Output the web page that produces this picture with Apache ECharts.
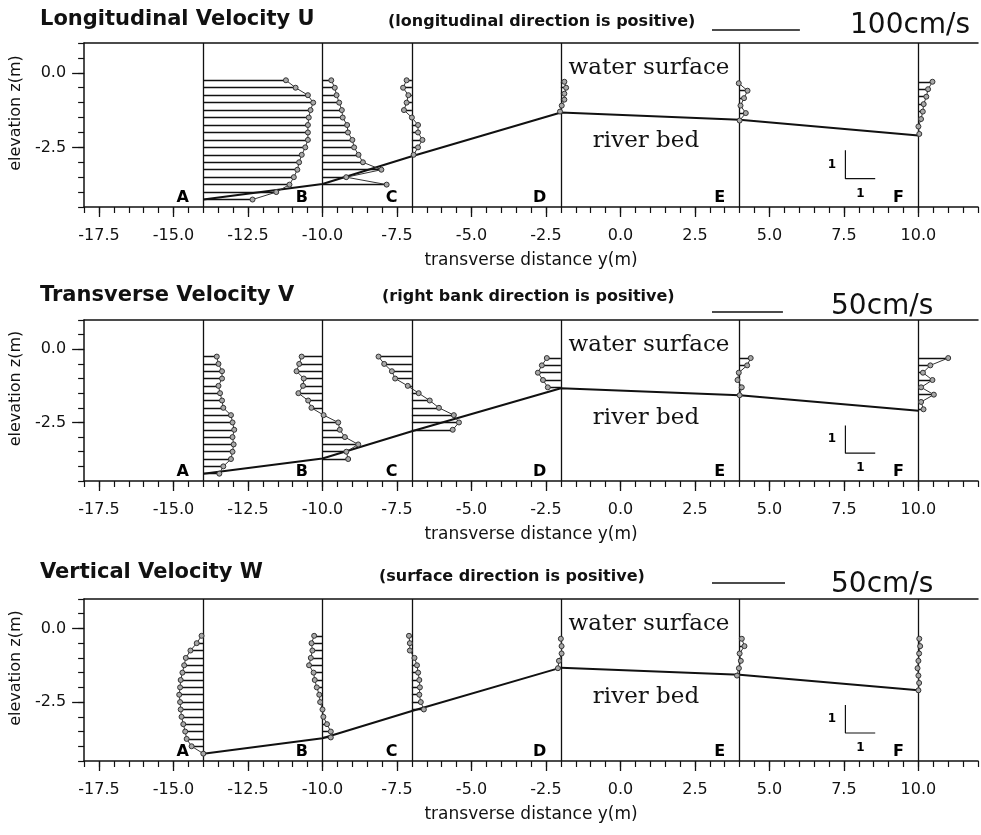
<!DOCTYPE html>
<html><head><meta charset="utf-8">
<script src="https://cdn.jsdelivr.net/npm/echarts@6/dist/echarts.min.js"></script>
<style>html,body{margin:0;padding:0;background:#fff}#c{width:981px;height:835px}</style>
</head><body><div id="c"></div>
<script>
// ---------- data ----------
const stations = [-14, -10, -7, -2, 4, 10];
const stationNames = ['A', 'B', 'C', 'D', 'E', 'F'];
const bedZ = [-4.25, -3.73, -2.8, -1.33, -1.57, -2.1];
const xTickLabels = [-17.5, -15, -12.5, -10, -7.5, -5, -2.5, 0, 2.5, 5, 7.5, 10];
const yTickLabels = [0, -2.5];

// measurement elevations (m)
const zA = [-0.25, -0.5, -0.75, -1.0, -1.25, -1.5, -1.75, -2.0, -2.25, -2.5, -2.75, -3.0, -3.25, -3.5, -3.75, -4.0, -4.25];
const zB = [-0.25, -0.5, -0.75, -1.0, -1.25, -1.5, -1.75, -2.0, -2.25, -2.5, -2.75, -3.0, -3.25, -3.5, -3.75];
const zB3 = [-0.25, -0.5, -0.75, -1.0, -1.25, -1.5, -1.75, -2.0, -2.25, -2.5, -2.75, -3.0, -3.25, -3.5, -3.7];
const zC = [-0.25, -0.5, -0.75, -1.0, -1.25, -1.5, -1.75, -2.0, -2.25, -2.5, -2.75];
const zD1 = [-0.3, -0.5, -0.7, -0.9, -1.1, -1.3];
const zE1 = [-0.35, -0.6, -0.85, -1.1, -1.35, -1.6];
const zF1 = [-0.3, -0.55, -0.8, -1.05, -1.3, -1.55, -1.8, -2.05];
const zD2 = [-0.3, -0.55, -0.8, -1.05, -1.3];
const zE2 = [-0.3, -0.55, -0.8, -1.05, -1.3, -1.57];
const zF2 = [-0.3, -0.55, -0.8, -1.05, -1.3, -1.55, -1.8, -2.05];
const zD3 = [-0.35, -0.6, -0.85, -1.1, -1.35];
const zE3 = [-0.35, -0.6, -0.85, -1.1, -1.35, -1.6];
const zF3 = [-0.35, -0.6, -0.85, -1.1, -1.35, -1.6, -1.85, -2.1];

// longitudinal velocity U (cm/s)
const uA = [94, 105, 119, 125, 122, 120, 119, 119, 119, 116, 112, 109, 107, 103, 98, 83, 56];
const uB = [10, 14, 16, 19, 22, 23, 28, 29, 34, 36, 41, 46, 67, 27, 73];
const uC = [-6, -10, -4, -6, -9, 0, 7, 7, 12, 7, 2];
const uD = [4, 6, 4, 4, 1, -1];
const uE = [-1, 9, 5, 1, 7, 0];
const uF = [16, 11, 9, 6, 5, 3, 0, 1];

// transverse velocity V (cm/s)
const vA = [9.5, 10.7, 13.2, 13.2, 10.7, 11.8, 13.2, 14.1, 19.5, 20.6, 21.8, 20.6, 21.4, 20.6, 19.5, 14.1, 11.3];
const vB = [-14.7, -16.4, -18.3, -13.2, -13.7, -17.0, -10.1, -7.8, 0.8, 11.1, 12.2, 15.8, 25.2, 16.8, 18.1];
const vC = [-23.5, -19.5, -14.1, -11.8, -2.9, 4.8, 12.6, 19.1, 29.6, 33.2, 28.8];
const vD = [-9.9, -13.4, -16.2, -12.6, -9.2];
const vE = [7.8, 5.3, -0.6, -1.5, 1.5, 0];
const vF = [21, 8.4, 3.2, 9.9, 1.9, 10.9, 1.9, 3.6];

// vertical velocity W (cm/s)
const wA = [-1.2, -4.5, -8.8, -12.0, -13.1, -14.3, -15.5, -15.9, -16.5, -15.9, -15.5, -14.9, -13.7, -12.4, -11.4, -8.0, 0];
const wB = [-5.7, -7.5, -6.9, -8.0, -9.2, -6.1, -5.3, -3.9, -2.2, -1.6, 0, 0.6, 3.1, 5.7, 5.7];
const wC = [-2.0, -1.4, -1.4, 1.8, 3.5, 4.3, 5.1, 5.5, 5.1, 6.1, 8.2];
const wD = [0, 0.5, 0.5, -1.3, -2.0];
const wE = [1.5, 3.3, 0, 0.8, -0.5, -1.8];
const wF = [0.6, 1.2, 0.5, 0, -0.6, 0, 0.5, 0];

const panels = [
  { title: 'Longitudinal Velocity U', sub: '(longitudinal direction is positive)', ref: 100, refText: '100cm/s',
    scale: 2.95 / 100, z: [zA, zB, zC, zD1, zE1, zF1], v: [uA, uB, uC, uD, uE, uF] },
  { title: 'Transverse Velocity V', sub: '(right bank direction is positive)', ref: 50, refText: '50cm/s',
    scale: 2.38 / 50, z: [zA, zB, zC, zD2, zE2, zF2], v: [vA, vB, vC, vD, vE, vF] },
  { title: 'Vertical Velocity W', sub: '(surface direction is positive)', ref: 50, refText: '50cm/s',
    scale: 2.45 / 50, z: [zA, zB3, zC, zD3, zE3, zF3], v: [wA, wB, wC, wD, wE, wF] }
];

// ---------- layout / style ----------
const X_MIN = -18, X_MAX = 12, Y_MIN = -4.5, Y_MAX = 1.0;
const gridLeft = 84, gridRight = 3;
const gridTops = [43, 320, 599];
const gridH = [164, 161, 162];
const titleY = [20, 296, 573];
const subY = [22, 297, 577];
const barY = [30, 312, 583];
const refY = [26, 307, 585];
const subX = [388, 382, 379];
const SANS = '"DejaVu Sans", sans-serif';
const SERIF = '"DejaVu Serif", serif';
const INK = '#111';
const scaleGlyph = { x: 7.55, zTop: -2.6, zBot: -3.55, len: 1 };

const isMajor = v => Math.abs(v / 2.5 - Math.round(v / 2.5)) < 1e-6;

const grid = [], xAxis = [], yAxis = [], series = [];
panels.forEach((p, i) => {
  grid.push({ left: gridLeft, right: gridRight, top: gridTops[i], height: gridH[i] });
  xAxis.push({
    gridIndex: i, type: 'value', min: X_MIN, max: X_MAX, interval: 0.5, position: 'bottom',
    axisLine: { show: true, onZero: false, lineStyle: { color: INK, width: 1.5 } },
    axisTick: { show: true, length: 6, lineStyle: { color: INK, width: 1.2 } },
    axisLabel: { show: true, interval: 0, margin: 21, fontFamily: SANS, fontSize: 16, color: INK,
      formatter: v => (isMajor(v) ? v.toFixed(1) : '') },
    splitLine: { show: false },
    name: 'transverse distance y(m)', nameLocation: 'middle', nameGap: 45,
    nameTextStyle: { fontFamily: SANS, fontSize: 17, color: INK }
  });
  xAxis.push({
    gridIndex: i, type: 'value', min: X_MIN, max: X_MAX, position: 'bottom',
    axisLine: { show: false, onZero: false },
    axisTick: { show: true, length: 10, customValues: xTickLabels, lineStyle: { color: INK, width: 1.3 } },
    axisLabel: { show: false }, splitLine: { show: false }
  });
  xAxis.push({
    gridIndex: i, type: 'value', min: X_MIN, max: X_MAX, position: 'top',
    axisLine: { show: true, onZero: false, lineStyle: { color: INK, width: 1.5 } },
    axisTick: { show: false }, axisLabel: { show: false }, splitLine: { show: false }
  });
  yAxis.push({
    gridIndex: i, type: 'value', min: Y_MIN, max: Y_MAX, interval: 0.5, position: 'left',
    axisLine: { show: true, onZero: false, lineStyle: { color: INK, width: 1.5 } },
    axisTick: { show: true, length: 6, lineStyle: { color: INK, width: 1.2 } },
    axisLabel: { show: true, margin: 18, fontFamily: SANS, fontSize: 16, color: INK,
      formatter: v => (yTickLabels.some(t => Math.abs(t - v) < 1e-6) ? v.toFixed(1) : '') },
    splitLine: { show: false },
    name: 'elevation z(m)', nameLocation: 'middle', nameGap: 56, nameRotate: 90,
    nameTextStyle: { fontFamily: SANS, fontSize: 16, color: INK, padding: [0, 0, 0, 24] }
  });
  yAxis.push({
    gridIndex: i, type: 'value', min: Y_MIN, max: Y_MAX, position: 'left',
    axisLine: { show: false, onZero: false },
    axisTick: { show: true, length: 12, customValues: yTickLabels, lineStyle: { color: INK, width: 1.3 } },
    axisLabel: { show: false }, splitLine: { show: false }
  });
  const xi = i * 3, yi = i * 2;

  // station verticals
  series.push({
    type: 'lines', coordinateSystem: 'cartesian2d', xAxisIndex: xi, yAxisIndex: yi, silent: true, z: 2,
    lineStyle: { color: INK, width: 1.3, opacity: 1 },
    data: stations.map(s => ({ coords: [[s, Y_MIN], [s, Y_MAX]] }))
  });
  // river bed
  series.push({
    type: 'line', xAxisIndex: xi, yAxisIndex: yi, silent: true, z: 3, symbol: 'none',
    lineStyle: { color: INK, width: 2 },
    data: stations.map((s, j) => [s, bedZ[j]])
  });
  // profiles
  stations.forEach((s, j) => {
    const zs = p.z[j], vs = p.v[j];
    series.push({
      type: 'lines', coordinateSystem: 'cartesian2d', xAxisIndex: xi, yAxisIndex: yi, silent: true, z: 3,
      lineStyle: { color: INK, width: 1.3, opacity: 1 },
      data: zs.map((z, k) => ({ coords: [[s, z], [s + vs[k] * p.scale, z]] }))
    });
    series.push({
      type: 'line', xAxisIndex: xi, yAxisIndex: yi, silent: true, z: 4,
      symbol: 'circle', symbolSize: 5,
      itemStyle: { color: '#a8a8a8', borderColor: '#333', borderWidth: 1 },
      lineStyle: { color: '#333', width: 1 },
      data: zs.map((z, k) => [s + vs[k] * p.scale, z])
    });
  });
  // station letters
  series.push({
    type: 'scatter', xAxisIndex: xi, yAxisIndex: yi, silent: true, z: 5, symbolSize: 1,
    itemStyle: { color: 'rgba(0,0,0,0)', opacity: 1 },
    label: { show: true, position: 'left', distance: 14, offset: [0, -9], formatter: d => d.data[2],
      fontFamily: SANS, fontSize: 16, fontWeight: 'bold', color: '#000', opacity: 1 },
    data: stations.map((s, j) => [s, Y_MIN, stationNames[j]])
  });
  // 1:1 scale glyph
  series.push({
    type: 'line', xAxisIndex: xi, yAxisIndex: yi, silent: true, z: 5, symbol: 'none',
    lineStyle: { color: INK, width: 1.2 },
    data: [[scaleGlyph.x, scaleGlyph.zTop], [scaleGlyph.x, scaleGlyph.zBot], [scaleGlyph.x + scaleGlyph.len, scaleGlyph.zBot]]
  });
  series.push({
    type: 'scatter', xAxisIndex: xi, yAxisIndex: yi, silent: true, z: 5, symbolSize: 1,
    itemStyle: { color: 'rgba(0,0,0,0)', opacity: 1 },
    label: { show: true, position: 'inside', formatter: '1', fontFamily: SANS, fontSize: 12, fontWeight: 'bold', color: '#000', opacity: 1 },
    data: [[scaleGlyph.x - 0.45, (scaleGlyph.zTop + scaleGlyph.zBot) / 2], [scaleGlyph.x + 0.5, scaleGlyph.zBot - 0.5]]
  });
});

const chart = echarts.init(document.getElementById('c'), null, { renderer: 'canvas' });
chart.setOption({ animation: false, backgroundColor: '#fff', grid, xAxis, yAxis, series });

// text + reference bars
const graphic = [];
panels.forEach((p, i) => {
  const a = chart.convertToPixel({ gridIndex: i }, [0, 0]);
  const b = chart.convertToPixel({ gridIndex: i }, [1, 0]);
  const pxPerM = b[0] - a[0];
  const top = gridTops[i];
  graphic.push({ type: 'text', silent: true, style: { text: p.title, x: 40, y: titleY[i], fill: INK,
    font: 'bold 21px ' + SANS, align: 'left', verticalAlign: 'middle' } });
  graphic.push({ type: 'text', silent: true, style: { text: p.sub, x: subX[i], y: subY[i], fill: INK,
    font: 'bold 16px ' + SANS, align: 'left', verticalAlign: 'middle' } });
  const barLen = p.ref * p.scale * pxPerM;
  graphic.push({ type: 'line', silent: true, shape: { x1: 712, y1: barY[i], x2: 712 + barLen, y2: barY[i] },
    style: { stroke: INK, lineWidth: 1.5 } });
  graphic.push({ type: 'text', silent: true, style: { text: p.refText, x: 831 + (i === 0 ? 19 : 0), y: refY[i], fill: INK,
    font: '28px ' + SANS, align: 'left', verticalAlign: 'middle' } });
  graphic.push({ type: 'text', silent: true, style: { text: 'water surface', x: 649, y: top + 25, fill: INK,
    font: '23px ' + SERIF, align: 'center', verticalAlign: 'middle' } });
  graphic.push({ type: 'text', silent: true, style: { text: 'river bed', x: 646, y: top + 98, fill: INK,
    font: '23px ' + SERIF, align: 'center', verticalAlign: 'middle' } });
});
chart.setOption({ graphic });
</script>
</body></html>
